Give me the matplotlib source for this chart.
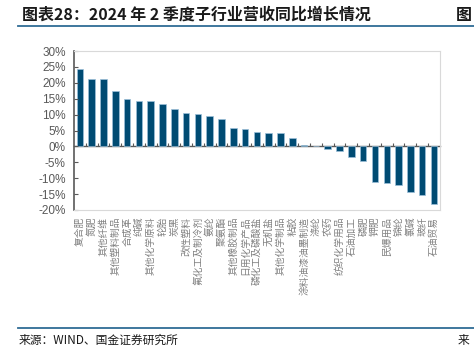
import numpy as np
import matplotlib
matplotlib.use("Agg")
from matplotlib import pyplot as plt
from matplotlib.lines import Line2D
from matplotlib.ticker import FuncFormatter

plt.rcParams['font.family'] = ['Noto Sans CJK SC', 'DejaVu Sans']

# data
industries = ['复合肥', '氮肥', '其他纤维', '其他塑料制品', '合成革', '纯碱',
              '其他化学原料', '轮胎', '炭黑', '改性塑料', '氟化工及制冷剂',
              '氨纶', '聚氨酯', '其他橡胶制品', '日用化学产品', '磷化工及磷酸盐',
              '无机盐', '其他化学制品', '粘胶', '涂料油漆油墨制造', '涤纶',
              '农药', '纺织化学用品', '石油加工', '磷肥', '钾肥', '民爆用品',
              '锦纶', '氯碱', '玻纤', '石油贸易']
growth = [24.5, 21.3, 21.3, 17.6, 14.8, 14.3, 14.3, 13.2, 11.8, 10.6, 10.3,
          9.6, 8.7, 5.7, 5.4, 4.7, 4.2, 4.2, 2.7, 0.3, 0.2,
          -0.9, -1.3, -3.2, -4.5, -11.1, -11.5, -12.1, -14.4, -15.2, -18.2]
yticks = [-20, -15, -10, -5, 0, 5, 10, 15, 20, 25, 30]

title = '图表28：2024 年 2 季度子行业营收同比增长情况'
source = '来源：WIND、国金证券研究所'

bar_col = '#004B73'
line_col = '#2F6C95'
grey = '#595959'

fig = plt.figure(figsize=(4.74, 3.5), dpi=100)
ax = fig.add_axes([0.156, 0.40, 0.772, 0.454])

x = np.arange(len(industries))
ax.bar(x, growth, width=0.55, color=bar_col, edgecolor='#9CC0DA', linewidth=0.5)

ax.set_xlim(-0.5, len(industries) - 0.5)
ax.set_ylim(-20, 30)
ax.set_yticks(yticks)
ax.yaxis.set_major_formatter(FuncFormatter(lambda v, p: '%d%%' % v))
ax.tick_params(axis='y', direction='in', length=3, width=0.8, color=grey,
               labelsize=8.5, labelcolor=grey, pad=6)
for t in ax.get_yticklabels():
    t.set_fontfamily('Liberation Sans')

ax.set_xticks(x)
ax.set_xticklabels(industries, rotation=90, fontsize=7.0, color='#808080',
                   va='top', ha='center')
ax.tick_params(axis='x', length=0, pad=5)

for s in ['top', 'right', 'bottom']:
    ax.spines[s].set_color('#D9D9D9')
    ax.spines[s].set_linewidth(0.8)
ax.spines['left'].set_color(grey)
ax.spines['left'].set_linewidth(1.2)

# zero line with small ticks between categories
zero = ax.secondary_xaxis(0.4)
zero.set_xticks(x[:-1] + 0.5)
zero.set_xticklabels([])
zero.tick_params(direction='in', length=2.5, width=0.8, color=grey)
zero.spines['bottom'].set_color(grey)
zero.spines['bottom'].set_linewidth(1.0)

# title, rules and source
fig.text(0.046, 0.958, title, fontsize=11.5, fontweight='bold', color='#1A1A1A',
         va='center', ha='left', fontstyle='italic')
fig.text(0.962, 0.958, '图', fontsize=11.5, fontweight='bold', color='#1A1A1A',
         va='center', ha='left')
fig.add_artist(Line2D([0.038, 1.0], [0.925, 0.925], color=line_col, lw=1.3))
fig.add_artist(Line2D([0.038, 1.0], [0.063, 0.063], color=line_col, lw=1.3))
fig.text(0.04, 0.028, source, fontsize=8.5, color='#1A1A1A', va='center', ha='left')
fig.text(0.966, 0.028, '来', fontsize=8.5, color='#1A1A1A', va='center', ha='left')

fig.savefig('out.png', dpi=100)
